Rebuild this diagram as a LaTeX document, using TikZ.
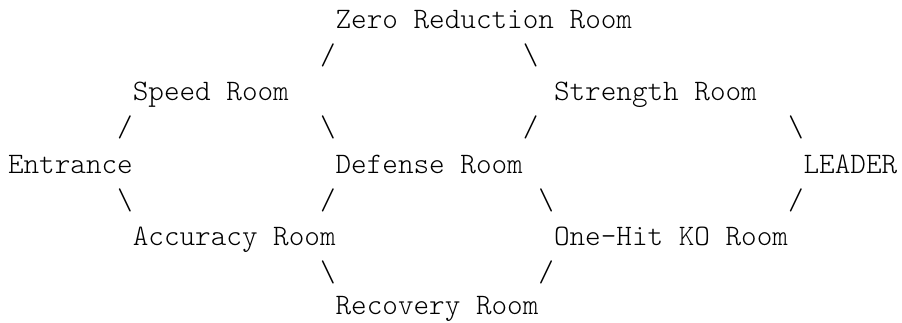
\documentclass[tikz,border=0pt]{standalone}
\usepackage{tikz}
\newcommand{\roomfont}{\fontsize{22.29}{26}\fontseries{l}\ttfamily}
\tikzset{room/.style={anchor=base west, inner sep=0pt, outer sep=0pt, font=\roomfont},
	link/.style={room}}
\begin{document}
\begin{tikzpicture}[x=0.75pt, y=-0.75pt]
			 \useasboundingbox (0,0) rectangle (902,322);
			 \node[room] (zero)at(335.6,28) {Zero Reduction Room};
			 \node[room] (speed)at(132.8,100.5) {Speed Room};
			 \node[room] (strength)at(554,100.5) {Strength Room};
			 \node[room] (entrance)at(8,173) {Entrance};
			 \node[room] (defense)at(335.6,173) {Defense Room};
			 \node[room] (leader)at(803.6,173) {LEADER};
			 \node[room] (accuracy)at(132.8,245.5) {Accuracy Room};
			 \node[room] (onehit)at(554,245.5) {One-Hit KO Room};
			 \node[room] (recovery)at(335.6,314.5) {Recovery Room};
			 \node[link] (s1)at(320,64.25) {/};
			 \node[link] (s2)at(522.8,64.25) {\textbackslash};
			 \node[link] (s3)at(117.2,136.75) {/};
			 \node[link] (s4)at(320,136.75) {\textbackslash};
			 \node[link] (s5)at(522.8,136.75) {/};
			 \node[link] (s6)at(788,136.75) {\textbackslash};
			 \node[link] (s7)at(117.2,209.25) {\textbackslash};
			 \node[link] (s8)at(320,209.25) {/};
			 \node[link] (s9)at(538.4,209.25) {\textbackslash};
			 \node[link] (s10)at(788,209.25) {/};
			 \node[link] (s11)at(320,281.75) {\textbackslash};
			 \node[link] (s12)at(538.4,281.75) {/};
\end{tikzpicture}
\end{document}
